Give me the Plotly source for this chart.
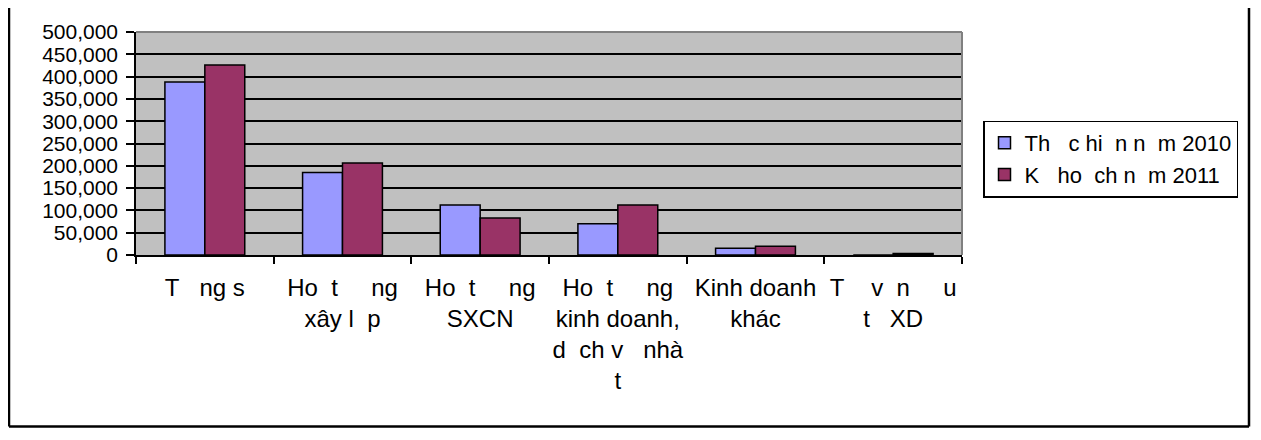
import plotly.graph_objects as go

NB = "\u00a0"

categories = [
    f"T{NB*3}ng s",
    f"Ho{NB*2}t{NB*5}ng<br>xây l{NB*2}p",
    f"Ho{NB*2}t{NB*5}ng<br>SXCN",
    f"Ho{NB*2}t{NB*5}ng<br>kinh doanh,<br>d{NB*2}ch v{NB*3}nhà<br>t",
    "Kinh doanh<br>khác",
    f"T{NB*4}v{NB*2}n{NB*5}u<br>t{NB*3}XD",
]
series_2010 = [388000, 185000, 112000, 70000, 15000, 0]
series_2011 = [426000, 206000, 83000, 112000, 19500, 3500]
name_2010 = f"Th{NB*3}c hi{NB*2}n n{NB*2}m 2010"
name_2011 = f"K{NB*3}ho{NB*2}ch n{NB*2}m 2011"
y_ticks = list(range(0, 500001, 50000))

FONT = "Liberation Sans, Arial, sans-serif"
FS = 24

# page has an 8px body margin; figure coordinates = reference - 8
OFF = 8
W, H = 1261 - OFF, 440 - OFF
L, R, T, B = 136 - OFF, 962 - OFF, 25 - OFF, 255 - OFF
PW, PH = R - L, B - T

fig = go.Figure()
fig.add_trace(go.Bar(x=categories, y=series_2010, name=name_2010,
                     marker=dict(color="#9999FF", line=dict(color="black", width=1.5))))
fig.add_trace(go.Bar(x=categories, y=series_2011, name=name_2011,
                     marker=dict(color="#993366", line=dict(color="black", width=1.5))))

frame_x0 = (1 - L) / PW
frame_x1 = (1249 - OFF - L) / PW
frame_y0 = (B - (432 - OFF)) / PH
frame_y1 = (B + 10) / PH

fig.update_layout(
    width=W, height=H,
    margin=dict(l=L, r=W - R, t=T, b=H - B, pad=0),
    paper_bgcolor="white",
    plot_bgcolor="#C0C0C0",
    barmode="group",
    bargap=0.42,
    bargroupgap=0,
    font=dict(family=FONT, size=FS, color="black"),
    showlegend=True,
    legend=dict(
        x=(983 - OFF - L) / PW, xanchor="left",
        y=(B - (156 - OFF)) / PH, yanchor="middle",
        bgcolor="white", bordercolor="black", borderwidth=1.5,
        font=dict(family=FONT, size=22, color="black"),
        tracegroupgap=0, itemwidth=30,
    ),
    xaxis=dict(
        type="category",
        tickson="boundaries",
        ticks="outside", ticklen=7, tickcolor="black", tickwidth=1.5,
        showline=True, linecolor="black", linewidth=1.5,
        showgrid=False,
        tickfont=dict(family=FONT, size=FS, color="black"),
        tickangle=0,
        ticklabelstandoff=10,
        fixedrange=True,
    ),
    yaxis=dict(
        range=[0, 500000],
        tickvals=y_ticks,
        tickformat=",",
        ticks="outside", ticklen=8, tickcolor="black", tickwidth=1.5,
        showline=True, linecolor="black", linewidth=1.5,
        showgrid=True, gridcolor="black", gridwidth=1.5,
        zeroline=False,
        tickfont=dict(family=FONT, size=21, color="black"),
        ticklabelstandoff=4,
        fixedrange=True,
    ),
    shapes=[
        dict(type="line", xref="paper", yref="paper", x0=0, x1=1, y0=1, y1=1,
             line=dict(color="#808080", width=2)),
        dict(type="line", xref="paper", yref="paper", x0=1, x1=1, y0=0, y1=1,
             line=dict(color="#808080", width=2)),
        # outer chart frame (left, bottom, right)
        dict(type="line", xref="paper", yref="paper", x0=frame_x0, x1=frame_x0,
             y0=frame_y0, y1=frame_y1, line=dict(color="black", width=2.5)),
        dict(type="line", xref="paper", yref="paper", x0=frame_x0, x1=frame_x1,
             y0=frame_y0, y1=frame_y0, line=dict(color="black", width=2.5)),
        dict(type="line", xref="paper", yref="paper", x0=frame_x1, x1=frame_x1,
             y0=frame_y0, y1=frame_y1, line=dict(color="black", width=2.5)),
    ],
)

fig.write_html("out.html")
